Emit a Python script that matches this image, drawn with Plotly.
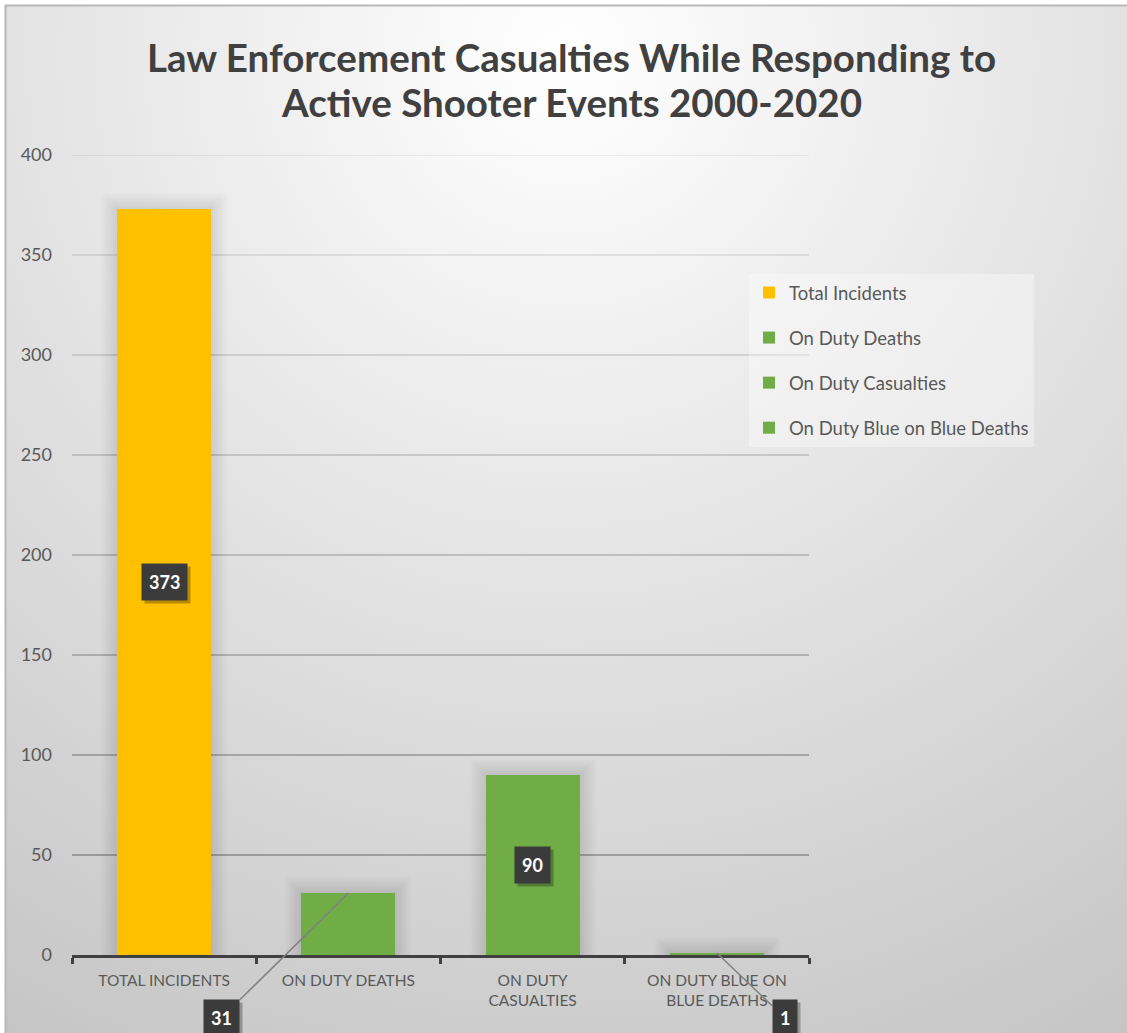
import base64
import plotly.graph_objects as go

# ---- data -------------------------------------------------------------
categories = ["TOTAL INCIDENTS", "ON DUTY DEATHS", "ON DUTY<br>CASUALTIES",
              "ON DUTY BLUE ON<br>BLUE DEATHS"]
series_names = ["Total Incidents", "On Duty Deaths", "On Duty Casualties",
                "On Duty Blue on Blue Deaths"]
values = [373, 31, 90, 1]
y_ticks = [0, 50, 100, 150, 200, 250, 300, 350, 400]
title_lines = ["Law Enforcement Casualties While Responding to",
               "Active Shooter Events 2000-2020"]

# ---- styling ----------------------------------------------------------
W, H = 1127, 1033
M_L, M_R, M_T, M_B = 72, 318, 155, 78
PLOT_W, PLOT_H = W - M_L - M_R, H - M_T - M_B
Y_MAX = 400
PX_PER_UNIT = PLOT_H / Y_MAX
CAT_PX = PLOT_W / len(categories)
BAR_W = 0.51

bar_colors = ["#FFC000", "#70AD47", "#70AD47", "#70AD47"]
TEXT = "#595959"
FONT = "Lato"
# data label placement: None = centred in the bar, else (dx, dy) pixel offset with leader line
label_offsets = [None, (-127, 125), None, (68, 65)]
# title line centres, in pixels above the top of the plot area
title_offsets = [98, 53]

# soft radial-gradient backdrop with a thin frame on the top and left
svg = f'''<svg xmlns="http://www.w3.org/2000/svg" width="{W}" height="{H}" viewBox="0 0 {W} {H}">
<defs><radialGradient id="g" cx="565" cy="55" r="1130" gradientUnits="userSpaceOnUse">
<stop offset="0" stop-color="#ffffff"/><stop offset="1" stop-color="#c5c5c5"/></radialGradient></defs>
<rect width="{W}" height="{H}" fill="#ffffff"/>
<rect x="5" y="5" width="{W}" height="{H}" fill="url(#g)"/>
<path d="M5.5,{H} V5.5 H{W}" stroke="#b8b8b8" stroke-width="2" fill="none"/>
</svg>'''
bg_src = "data:image/svg+xml;base64," + base64.b64encode(svg.encode()).decode()

fig = go.Figure()

# soft drop shadow behind each bar, built from a few translucent layers
for k in range(1, 9):
    spread = 2.0 * k
    fig.add_trace(go.Bar(
        x=categories,
        y=[v + spread / PX_PER_UNIT for v in values],
        width=BAR_W + 2 * spread / CAT_PX,
        marker=dict(color="rgba(0,0,0,0.011)", line=dict(width=0)),
        showlegend=False, hoverinfo="skip",
    ))

for i, (cat, name, v) in enumerate(zip(categories, series_names, values)):
    fig.add_trace(go.Bar(
        x=[cat], y=[v], name=name, width=BAR_W,
        marker=dict(color=bar_colors[i], line=dict(width=0)),
        legendgroup=name,
    ))

# gridlines that darken toward the baseline
shapes = []
for t in y_ticks[1:]:
    a = 0.076 + (0.35 - 0.076) * (Y_MAX - t) / (Y_MAX - 50)
    shapes.append(dict(type="line", xref="paper", x0=0, x1=1, yref="y", y0=t, y1=t,
                       line=dict(color=f"rgba(0,0,0,{a:.3f})", width=1.6), layer="below"))

annotations = []

# two-line chart title
for line, off in zip(title_lines, title_offsets):
    annotations.append(dict(
        text=line, xref="paper", yref="paper", x=(571 - M_L) / PLOT_W, y=1,
        xanchor="center", yanchor="middle", yshift=off, showarrow=False,
        font=dict(family=FONT, size=38.5, color="#404040", weight=700)))

# data labels in dark boxes
lab_font = dict(family=FONT, size=18, color="white", weight=700)
for i, (cat, v) in enumerate(zip(categories, values)):
    off = label_offsets[i]
    if off is None:
        x, y, dx, dy = cat, v / 2, 0, 0
    else:
        x, y, dx, dy = cat, v, off[0], off[1]
    # drop shadow of the label box (figure spaces keep the box the same width)
    annotations.append(dict(
        x=x, y=y, xref="x", yref="y", text="\u2007" * len(str(v)), showarrow=False,
        xshift=dx + 3, yshift=-dy - 3, bgcolor="rgba(0,0,0,0.28)", borderpad=7,
        font=dict(family=FONT, size=18, color="rgba(0,0,0,0)", weight=700)))
    if off is None:
        annotations.append(dict(x=x, y=y, xref="x", yref="y", text=str(v), showarrow=False,
                                bgcolor="#3b3b3b", borderpad=7, font=lab_font))
    else:
        annotations.append(dict(x=x, y=y, xref="x", yref="y", text=str(v), showarrow=True,
                                ax=dx, ay=dy, arrowhead=0, arrowwidth=1.5, arrowcolor="#808080",
                                standoff=0, bgcolor="#3b3b3b", borderpad=7, font=lab_font))

fig.update_layout(
    width=W, height=H,
    margin=dict(l=M_L, r=M_R, t=M_T, b=M_B, pad=0),
    paper_bgcolor="white", plot_bgcolor="rgba(0,0,0,0)",
    barmode="overlay", bargap=0,
    font=dict(family=FONT, color=TEXT),
    xaxis=dict(type="category", categoryorder="array", categoryarray=categories,
               showgrid=False, showline=True, linecolor="#404040", linewidth=3,
               ticks="outside", tickson="boundaries", ticklen=6, tickwidth=2.5,
               tickcolor="#404040", tickfont=dict(family=FONT, size=15.5, color=TEXT),
               ticklabelstandoff=9, fixedrange=True),
    yaxis=dict(range=[0, Y_MAX], tickvals=y_ticks, showgrid=False, zeroline=False,
               showline=False, ticks="", tickfont=dict(family=FONT, size=18, color=TEXT),
               ticklabelstandoff=19, fixedrange=True),
    legend=dict(x=(749 - M_L) / PLOT_W, y=(H - M_B - 274) / PLOT_H, xanchor="left", yanchor="top",
                bgcolor="rgba(255,255,255,0.35)", borderwidth=0,
                font=dict(family=FONT, size=18.5, color=TEXT),
                tracegroupgap=18, itemsizing="constant"),
    images=[dict(source=bg_src, xref="paper", yref="paper",
                 x=-M_L / PLOT_W, y=1 + M_T / PLOT_H, sizex=W / PLOT_W, sizey=H / PLOT_H,
                 xanchor="left", yanchor="top", sizing="stretch", layer="below")],
    shapes=shapes,
    annotations=annotations,
    showlegend=True,
)

fig.write_html("out.html", config={"displayModeBar": False})
